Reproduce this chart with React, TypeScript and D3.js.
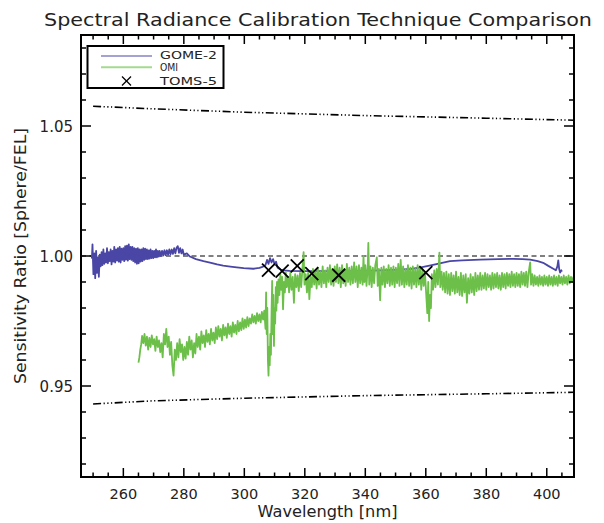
import React from "react";
import * as d3 from "d3";

const title = "Spectral Radiance Calibration Technique Comparison";
const xTitle = "Wavelength [nm]";
const yTitle = "Sensitivity Ratio [Sphere/FEL]";
const xMajorTicks = [260, 280, 300, 320, 340, 360, 380, 400];
const yMajorTicks = [0.95, 1.0, 1.05];
const yTickLabels = ["0.95", "1.00", "1.05"];
const legendNames = ["GOME-2", "OMI", "TOMS-5"];

const tomsWl = [308, 312.5, 317.5, 322.3, 331.2, 360];
const tomsVal = [0.9946, 0.9942, 0.9962, 0.9932, 0.9926, 0.9936];

const upperBound: [number, number][] = [
  [250, 1.0576], [270, 1.0566], [300, 1.0553], [340, 1.054], [380, 1.053], [410, 1.0522],
];
const lowerBound: [number, number][] = [
  [250, 0.9431], [270, 0.9443], [300, 0.9453], [340, 0.9463], [380, 0.947], [410, 0.9476],
];

const gome: [number, number][] = [
  [249.6, 0.999], [249.8, 1.0045], [250.1, 0.993], [250.4, 1.001], [250.7, 0.9915], [251.0, 1.002],
  [251.3, 0.9935], [251.6, 0.9995], [251.9, 0.992], [252.2, 1.0005], [252.5, 0.996], [252.8, 1.0015],
  [253.1, 0.9965], [253.4, 1.0025], [253.7, 0.997], [254.0, 1.001], [254.3, 0.9975], [254.6, 1.003],
  [254.9, 0.9972], [255.2, 1.0015], [255.5, 0.998], [255.8, 1.0025], [256.1, 0.9968], [256.4, 1.002],
  [256.7, 0.9978], [257.0, 1.0035], [257.3, 0.9975], [257.6, 1.0025], [257.9, 0.9982], [258.2, 1.003],
  [258.5, 0.9978], [258.8, 1.0035], [259.1, 0.9975], [259.4, 1.0028], [259.7, 0.9985], [260.0, 1.003],
  [260.3, 0.998], [260.6, 1.0038], [260.9, 0.9986], [261.2, 1.004], [261.5, 0.9982], [261.8, 1.0045],
  [262.1, 0.9988], [262.4, 1.0035], [262.7, 0.9985], [263.0, 1.0035], [263.3, 0.998], [263.6, 1.003],
  [263.9, 0.9975], [264.2, 1.0028], [264.5, 0.997], [264.8, 1.003], [265.1, 0.9972], [265.4, 1.0025],
  [265.7, 0.9978], [266.0, 1.0025], [266.3, 0.998], [266.6, 1.003], [266.9, 0.9985], [267.2, 1.0028],
  [267.5, 0.9988], [267.8, 1.0025], [268.1, 0.9988], [268.4, 1.0022], [268.7, 0.999], [269.0, 1.0025],
  [269.3, 0.9992], [269.6, 1.002], [269.9, 0.9992], [270.2, 1.002], [270.5, 0.9995], [270.8, 1.0025],
  [271.1, 0.9995], [271.4, 1.002], [271.7, 0.9998], [272.0, 1.002], [272.4, 1.0], [272.8, 1.002],
  [273.2, 1.0002], [273.6, 1.0022], [274.0, 1.0003], [274.4, 1.0022], [274.8, 1.0005], [275.2, 1.0025],
  [275.6, 1.0007], [276.0, 1.0025], [276.4, 1.0008], [276.8, 1.003], [277.2, 1.001], [277.6, 1.0032],
  [278.0, 1.0038], [278.4, 1.0012], [278.8, 1.003], [279.2, 1.001], [279.6, 1.0025], [280.0, 1.0005],
  [281.0, 1.001], [282.0, 0.9998], [284.0, 0.9988], [286.5, 0.998], [289.0, 0.9974], [291.0, 0.9968],
  [293.0, 0.9963], [295.4, 0.9959], [297.5, 0.9956], [299.8, 0.9953], [303.0, 0.9951], [305.0, 0.9954],
  [306.0, 0.9958], [307.0, 0.9965], [307.5, 0.9985], [308.0, 0.997], [308.5, 0.9992], [309.0, 0.9975],
  [309.5, 0.9988], [310.0, 0.9968], [310.5, 0.9978], [311.0, 0.9955], [312.0, 0.9948], [313.0, 0.9945],
  [315.0, 0.9943], [320.0, 0.9942], [325.0, 0.9942], [330.0, 0.9942], [335.0, 0.9942], [339.0, 0.9943],
  [345.0, 0.9945], [350.0, 0.9947], [355.0, 0.995], [358.0, 0.9955], [362.0, 0.9965], [365.0, 0.9973],
  [368.0, 0.998], [372.0, 0.9983], [378.0, 0.9986], [384.0, 0.9988], [389.0, 0.9989], [392.0, 0.9988],
  [394.5, 0.9986], [397.0, 0.998], [398.8, 0.9974], [400.5, 0.9962], [402.0, 0.9952], [403.0, 0.9945],
  [403.5, 0.996], [403.8, 0.9983], [404.1, 0.995], [404.4, 0.9936], [404.8, 0.9945], [405.0, 0.994],
];

const omi: [number, number][] = [
  [265.0, 0.959], [265.3, 0.961], [265.6, 0.964], [265.9, 0.966], [266.2, 0.9693], [266.6, 0.9665],
  [267.0, 0.97], [267.4, 0.9655], [267.8, 0.969], [268.2, 0.964], [268.6, 0.9685], [269.0, 0.965],
  [269.4, 0.9695], [269.8, 0.966], [270.2, 0.968], [270.6, 0.9635], [271.0, 0.969], [271.4, 0.965],
  [271.8, 0.9675], [272.2, 0.963], [272.6, 0.9665], [273.0, 0.961], [273.4, 0.97], [273.8, 0.966],
  [274.2, 0.972], [274.6, 0.965], [275.0, 0.969], [275.4, 0.962], [275.8, 0.967], [276.2, 0.958],
  [276.6, 0.954], [277.0, 0.964], [277.4, 0.96], [277.8, 0.9665], [278.2, 0.961], [278.6, 0.968],
  [279.0, 0.963], [279.4, 0.966], [279.8, 0.96], [280.2, 0.965], [280.6, 0.9605], [281.0, 0.967],
  [281.4, 0.962], [281.8, 0.969], [282.2, 0.964], [282.6, 0.9675], [283.0, 0.961], [283.4, 0.9665],
  [283.8, 0.9625], [284.2, 0.97], [284.6, 0.965], [285.0, 0.969], [285.4, 0.964], [285.8, 0.971],
  [286.2, 0.9665], [286.6, 0.9695], [287.0, 0.965], [287.4, 0.9715], [287.8, 0.967], [288.2, 0.97],
  [288.6, 0.966], [289.0, 0.972], [289.4, 0.9675], [289.8, 0.9705], [290.2, 0.9665], [290.6, 0.9725],
  [291.0, 0.968], [291.4, 0.973], [291.8, 0.969], [292.2, 0.972], [292.6, 0.9675], [293.0, 0.9735],
  [293.4, 0.9695], [293.8, 0.9725], [294.2, 0.9685], [294.6, 0.974], [295.0, 0.97], [295.4, 0.973],
  [295.8, 0.969], [296.2, 0.9745], [296.6, 0.9705], [297.0, 0.9735], [297.4, 0.97], [297.8, 0.975],
  [298.2, 0.971], [298.6, 0.9745], [299.0, 0.9715], [299.4, 0.976], [299.8, 0.972], [300.2, 0.9755],
  [300.6, 0.9725], [301.0, 0.9765], [301.4, 0.973], [301.8, 0.976], [302.2, 0.974], [302.6, 0.9775],
  [303.0, 0.9745], [303.4, 0.977], [303.8, 0.974], [304.2, 0.978], [304.6, 0.975], [305.0, 0.9775],
  [305.4, 0.9745], [305.8, 0.9785], [306.2, 0.9755], [306.6, 0.979], [307.0, 0.972], [307.2, 0.986],
  [307.4, 0.97], [307.6, 0.98], [307.8, 0.96], [308.0, 0.954], [308.2, 0.965], [308.4, 0.958],
  [308.6, 0.97], [308.8, 0.962], [309.0, 0.978], [309.2, 0.9904], [309.4, 0.97], [309.6, 0.985],
  [309.8, 0.9654], [310.0, 0.98], [310.2, 0.974], [310.4, 0.988], [310.6, 0.979], [310.8, 0.99],
  [311.0, 0.982], [311.3, 0.991], [311.6, 0.985], [311.9, 0.993], [312.2, 0.987], [312.5, 0.992],
  [312.8, 0.9795], [313.1, 0.99], [313.4, 0.986], [313.7, 0.9937], [314.0, 0.988], [314.4, 0.992],
  [314.8, 0.986], [315.2, 0.9935], [315.6, 0.987], [316.0, 0.992], [316.4, 0.982], [316.8, 0.993],
  [317.2, 0.988], [317.6, 0.9925], [318.0, 0.9865], [318.4, 0.9935], [318.8, 0.988], [319.2, 0.995],
  [319.6, 1.0015], [319.9, 0.989], [320.3, 0.993], [320.7, 0.986], [321.1, 0.9935], [321.5, 0.9834],
  [321.9, 0.992], [322.3, 0.988], [322.7, 0.995], [323.1, 0.989], [323.5, 0.9945], [323.9, 0.9875],
  [324.3, 0.9955], [324.7, 0.989], [325.1, 0.994], [325.5, 0.988], [325.9, 0.996], [326.3, 0.9895],
  [326.7, 0.9945], [327.1, 0.988], [327.5, 0.9955], [327.9, 0.99], [328.3, 0.9965], [328.7, 0.989],
  [329.1, 0.995], [329.5, 0.9885], [329.9, 0.996], [330.3, 0.99], [330.7, 0.9968], [331.1, 0.9895],
  [331.5, 0.9955], [331.9, 0.988], [332.3, 0.9965], [332.7, 0.9895], [333.1, 0.995], [333.5, 0.9885],
  [333.9, 0.997], [334.3, 0.99], [334.7, 0.9955], [335.1, 0.989], [335.5, 0.996], [335.9, 0.9895],
  [336.3, 0.9975], [336.7, 0.99], [337.1, 0.996], [337.5, 0.988], [337.9, 0.9965], [338.3, 0.9895],
  [338.7, 0.9955], [339.1, 0.989], [339.4, 1.0], [339.7, 0.99], [340.0, 0.9965], [340.4, 0.9885],
  [340.8, 0.996], [341.0, 1.005], [341.3, 0.989], [341.7, 0.996], [342.1, 0.988], [342.5, 0.9955],
  [342.9, 0.9895], [343.3, 0.9965], [343.8, 0.9995], [344.1, 0.9885], [344.5, 0.995], [344.9, 0.983],
  [345.3, 0.9955], [345.7, 0.989], [346.1, 0.996], [346.5, 0.988], [346.9, 0.995], [347.3, 0.9895],
  [347.7, 0.9965], [348.1, 0.9885], [348.5, 0.9955], [348.9, 0.989], [349.3, 0.996], [349.7, 0.988],
  [350.1, 0.9955], [350.5, 0.9895], [350.9, 0.997], [351.3, 0.9885], [351.7, 0.9985], [352.1, 0.989],
  [352.5, 0.996], [352.9, 0.988], [353.3, 0.995], [353.7, 0.989], [354.1, 0.9965], [354.5, 0.9885],
  [354.9, 0.9955], [355.3, 0.9875], [355.7, 0.996], [356.1, 0.989], [356.5, 0.995], [356.9, 0.988],
  [357.3, 0.9965], [357.7, 0.989], [358.1, 0.9955], [358.5, 0.987], [358.9, 0.995], [359.3, 0.9885],
  [359.7, 0.994], [360.1, 0.986], [360.5, 0.978], [360.8, 0.99], [361.1, 0.975], [361.4, 0.985],
  [361.7, 0.98], [362.0, 0.993], [362.4, 0.987], [362.8, 0.9945], [363.2, 0.988], [363.6, 0.995],
  [364.0, 0.989], [364.5, 1.0013], [364.8, 0.988], [365.2, 0.994], [365.6, 0.987], [366.0, 0.9935],
  [366.4, 0.986], [366.8, 0.994], [367.2, 0.9855], [367.6, 0.993], [368.0, 0.985], [368.4, 0.9935],
  [368.8, 0.9865], [369.2, 0.9925], [369.6, 0.9855], [370.0, 0.994], [370.4, 0.986], [370.8, 0.992],
  [371.2, 0.985], [371.6, 0.9935], [372.0, 0.9846], [372.4, 0.9925], [372.8, 0.986], [373.2, 0.993],
  [373.6, 0.982], [374.0, 0.9915], [374.4, 0.9855], [374.8, 0.993], [375.2, 0.986], [375.6, 0.992],
  [376.0, 0.985], [376.4, 0.9935], [376.8, 0.9865], [377.2, 0.9925], [377.6, 0.987], [378.0, 0.9935],
  [378.4, 0.987], [378.8, 0.9925], [379.2, 0.9875], [379.6, 0.9935], [380.0, 0.987], [380.4, 0.993],
  [380.8, 0.988], [381.2, 0.9925], [381.6, 0.987], [382.0, 0.9935], [382.4, 0.9875], [382.8, 0.993],
  [383.2, 0.988], [383.6, 0.9935], [384.0, 0.9875], [384.4, 0.9925], [384.8, 0.987], [385.2, 0.9935],
  [385.6, 0.988], [386.0, 0.993], [386.4, 0.9875], [386.8, 0.9935], [387.2, 0.9885], [387.6, 0.993],
  [388.0, 0.988], [388.4, 0.994], [388.8, 0.9885], [389.2, 0.993], [389.6, 0.988], [390.0, 0.9935],
  [390.4, 0.9885], [390.8, 0.993], [391.2, 0.988], [391.6, 0.994], [392.0, 0.989], [392.4, 0.9935],
  [392.8, 0.9885], [393.2, 0.994], [393.6, 0.988], [394.0, 0.9935], [394.5, 0.9975], [394.8, 0.989],
  [395.2, 0.993], [395.6, 0.9885], [396.0, 0.9925], [396.4, 0.989], [396.8, 0.992], [397.2, 0.9885],
  [397.6, 0.9925], [398.0, 0.989], [398.4, 0.992], [398.8, 0.9885], [399.2, 0.9925], [399.6, 0.989],
  [400.0, 0.992], [400.4, 0.9885], [400.8, 0.9925], [401.2, 0.989], [401.6, 0.992], [402.0, 0.9885],
  [402.4, 0.9925], [402.8, 0.989], [403.2, 0.992], [403.6, 0.9885], [404.0, 0.9925], [404.4, 0.9895],
  [404.8, 0.992], [405.2, 0.989], [405.6, 0.9925], [406.0, 0.9895], [406.4, 0.992], [406.8, 0.989],
  [407.2, 0.9925], [407.6, 0.9895], [408.0, 0.992], [408.4, 0.99], [408.8, 0.992],
];

const W = 604;
const H = 523;
const L = 81;
const R = 574;
const T = 35;
const B = 477;
const FONT = "'DejaVu Sans', sans-serif";
const TXT = "#222";
const BLUE = "#4a46a6";
const GREEN = "#6cbf48";

export default function App() {
  const x = d3.scaleLinear().domain([246, 409]).range([L, R]);
  const y = d3.scaleLinear().domain([0.915, 1.085]).range([B, T]);
  const line = d3
    .line<[number, number]>()
    .x((d) => x(d[0]))
    .y((d) => y(d[1]));

  const xMinor = d3.range(250, 409, 5).filter((v) => v % 20 !== 0);
  const yMinor = d3
    .range(92, 109, 1)
    .map((v) => v / 100)
    .filter((v) => !yMajorTicks.some((m) => Math.abs(m - v) < 1e-6));

  const xt = 9;
  const xtm = 4.5;
  const yt = 10;
  const ytm = 5;
  const xs = (v: number) => x(v);
  const dashDot = "8,2.5,1.2,2.5,1.2,2.5,1.2,2.5";

  return (
    <svg width={W} height={H} style={{ position: "absolute", left: 0, top: 0, background: "#fff" }}>
      <defs>
        <clipPath id="plot">
          <rect x={L} y={T} width={R - L} height={B - T} />
        </clipPath>
      </defs>
      <rect x={0} y={0} width={W} height={H} fill="#fff" />
      <text
        x={318}
        y={26}
        fontFamily={FONT}
        fontSize={18}
        fill={TXT}
        textAnchor="middle"
        textLength={548}
        lengthAdjust="spacingAndGlyphs"
      >
        {title}
      </text>

      <g clipPath="url(#plot)">
        <line x1={L} x2={R} y1={y(1)} y2={y(1)} stroke="#000" strokeWidth={1} strokeDasharray="5,3.5" />
        <path d={line(upperBound) || ""} fill="none" stroke="#000" strokeWidth={1.6} strokeDasharray={dashDot} />
        <path d={line(lowerBound) || ""} fill="none" stroke="#000" strokeWidth={1.6} strokeDasharray={dashDot} />
        <path d={line(gome) || ""} fill="none" stroke={BLUE} strokeWidth={1.8} strokeLinejoin="round" />
        <path d={line(omi) || ""} fill="none" stroke={GREEN} strokeWidth={1.8} strokeLinejoin="round" />
        {tomsWl.map((w, i) => {
          const cx = x(w);
          const cy = y(tomsVal[i]);
          const s = 6.5;
          return (
            <g key={i} stroke="#000" strokeWidth={1.8}>
              <line x1={cx - s} y1={cy - s} x2={cx + s} y2={cy + s} />
              <line x1={cx - s} y1={cy + s} x2={cx + s} y2={cy - s} />
            </g>
          );
        })}
      </g>

      <g stroke="#000" strokeWidth={1.5}>
        {xMajorTicks.map((v) => (
          <g key={"xm" + v}>
            <line x1={xs(v)} x2={xs(v)} y1={B} y2={B - xt} />
            <line x1={xs(v)} x2={xs(v)} y1={T} y2={T + xt} />
          </g>
        ))}
        {xMinor.map((v) => (
          <g key={"xn" + v}>
            <line x1={xs(v)} x2={xs(v)} y1={B} y2={B - xtm} />
            <line x1={xs(v)} x2={xs(v)} y1={T} y2={T + xtm} />
          </g>
        ))}
        {yMajorTicks.map((v) => (
          <g key={"ym" + v}>
            <line x1={L} x2={L + yt} y1={y(v)} y2={y(v)} />
            <line x1={R} x2={R - yt} y1={y(v)} y2={y(v)} />
          </g>
        ))}
        {yMinor.map((v) => (
          <g key={"yn" + v}>
            <line x1={L} x2={L + ytm} y1={y(v)} y2={y(v)} />
            <line x1={R} x2={R - ytm} y1={y(v)} y2={y(v)} />
          </g>
        ))}
      </g>
      <rect x={L} y={T} width={R - L} height={B - T} fill="none" stroke="#000" strokeWidth={2} />

      {xMajorTicks.map((v) => (
        <text key={"xl" + v} x={xs(v)} y={499} fontFamily={FONT} fontSize={14.5} fill={TXT} textAnchor="middle">
          {String(v)}
        </text>
      ))}
      {yMajorTicks.map((v, i) => (
        <text key={"yl" + v} x={73} y={y(v) + 5.5} fontFamily={FONT} fontSize={15} fill={TXT} textAnchor="end">
          {yTickLabels[i]}
        </text>
      ))}
      <text
        x={(L + R) / 2}
        y={517}
        fontFamily={FONT}
        fontSize={15}
        fill={TXT}
        textAnchor="middle"
        textLength={140}
        lengthAdjust="spacingAndGlyphs"
      >
        {xTitle}
      </text>
      <text
        transform={`translate(26, ${(T + B) / 2}) rotate(-90)`}
        fontFamily={FONT}
        fontSize={15}
        fill={TXT}
        textAnchor="middle"
        textLength={256}
        lengthAdjust="spacingAndGlyphs"
      >
        {yTitle}
      </text>

      <rect x={87.5} y={46} width={136} height={42} fill="#fff" stroke="#000" strokeWidth={2} />
      <line x1={101} x2={152} y1={56} y2={56} stroke={BLUE} strokeWidth={1.2} />
      <line x1={101} x2={152} y1={67.3} y2={67.3} stroke="#a3db8e" strokeWidth={2} />
      <g stroke="#000" strokeWidth={1.2}>
        <line x1={122} y1={76.5} x2={131} y2={85.5} />
        <line x1={122} y1={85.5} x2={131} y2={76.5} />
      </g>
      <text x={160} y={59} fontFamily={FONT} fontSize={10.5} fill={TXT} textLength={57} lengthAdjust="spacingAndGlyphs">
        {legendNames[0]}
      </text>
      <text x={160} y={71} fontFamily={FONT} fontSize={10} fill={TXT} textLength={18} lengthAdjust="spacingAndGlyphs">
        {legendNames[1]}
      </text>
      <text x={160} y={84.5} fontFamily={FONT} fontSize={10.5} fill={TXT} textLength={57} lengthAdjust="spacingAndGlyphs">
        {legendNames[2]}
      </text>
    </svg>
  );
}
